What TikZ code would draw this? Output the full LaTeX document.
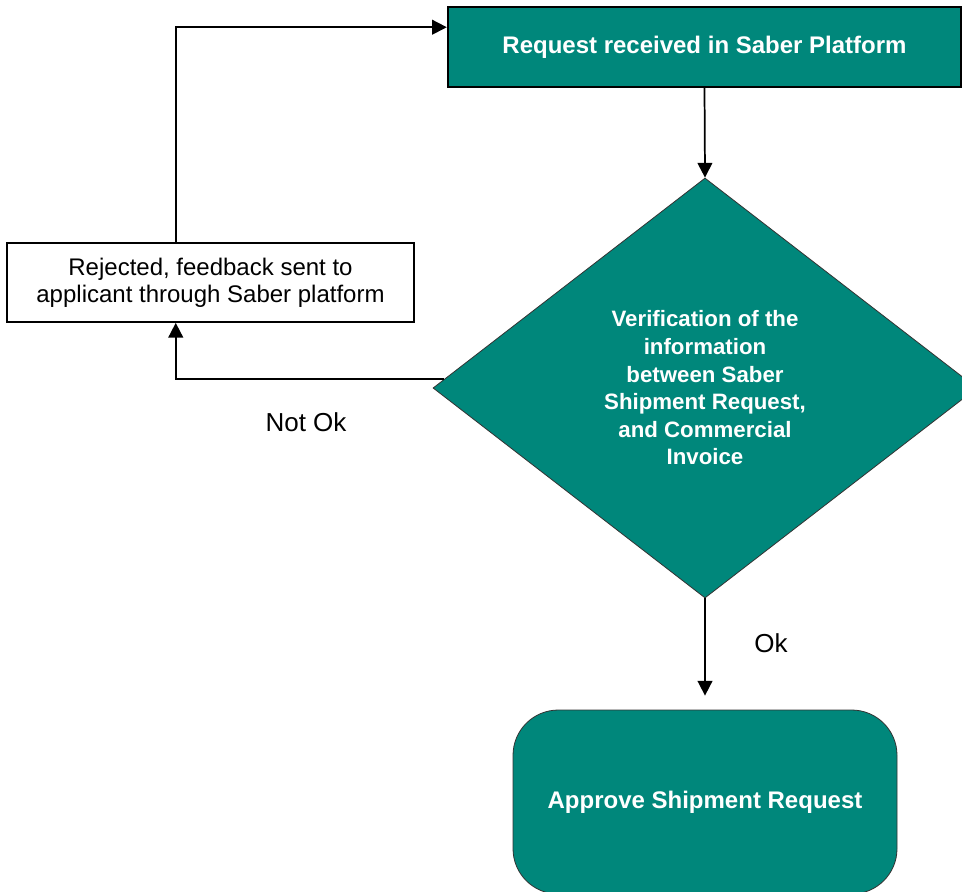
\documentclass[tikz,border=0pt]{standalone}
\usepackage{fontspec}
\setmainfont{Liberation Sans}
\usetikzlibrary{arrows.meta,shapes.geometric,calc}
\definecolor{tealfill}{RGB}{0,135,123}
\begin{document}
\begin{tikzpicture}[x=0.75pt,y=-0.75pt,
  conn/.style={line width=1.3pt,draw=black},
  arr/.style={conn,-{Triangle[length=11pt,width=11pt]}},
  tealbox/.style={rectangle,draw=black,line width=1.8pt,fill=tealfill,text=white,
    font=\bfseries\fontsize{18}{21}\selectfont,inner sep=0pt},
  whitebox/.style={rectangle,draw=black,line width=1.3pt,fill=white,
    font=\fontsize{18}{20.25}\selectfont,align=center,inner sep=0pt},
  decision/.style={diamond,draw=black!80,line width=0.6pt,fill=tealfill,text=white,
    font=\bfseries\fontsize{16.7}{20.7}\selectfont,align=center,inner sep=0pt},
  endbox/.style={rectangle,rounded corners=34pt,draw=black!80,line width=0.6pt,fill=tealfill,text=white,
    font=\bfseries\fontsize{18}{21}\selectfont,inner sep=0pt},
  lbl/.style={font=\fontsize{19.5}{22}\selectfont,inner sep=0pt}]
\useasboundingbox (0,0) rectangle (962,891);
\node[tealbox,minimum width=384.75pt,minimum height=60pt] (req) at (704.5,47) {Request received in Saber Platform};
\node[whitebox,minimum width=305.25pt,minimum height=59.25pt] (rej) at (210.5,282.5) {Rejected, feedback sent to\\applicant through Saber platform};
\node[decision,minimum width=408pt,minimum height=315pt] (ver) at (705,388) {Verification of the\\information\\between Saber\\Shipment Request,\\and Commercial\\Invoice};
\node[endbox,minimum width=288pt,minimum height=138pt] (app) at (705,802) {Approve Shipment Request};
\coordinate (rejx) at ($(rej.north west)!0.415!(rej.north east)$);
\coordinate (rejb) at ($(rej.south west)!0.415!(rej.south east)$);
\coordinate (reqin) at ($(req.north west)!0.26!(req.south west)$);
\draw[arr] (req.south) -- (ver.north);
\draw[arr] (ver.178) -| (rejb);
\draw[arr] (rejx) |- (reqin);
\draw[arr,shorten >=10.5pt] (ver.south) -- (app.north);
\node[lbl] (notok) at (306,422) {Not Ok};
\node[lbl] (ok) at (771,643) {Ok};
\end{tikzpicture}
\end{document}
